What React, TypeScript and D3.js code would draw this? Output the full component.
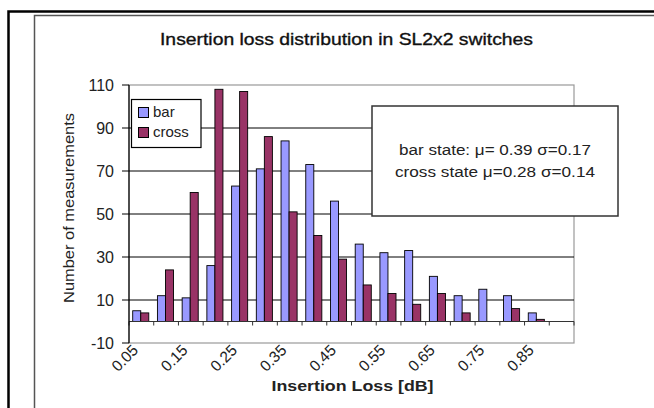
import React from "react";
import * as d3 from "d3";

const categories = ["0.05","0.10","0.15","0.20","0.25","0.30","0.35","0.40","0.45","0.50","0.55","0.60","0.65","0.70","0.75","0.80","0.85","0.90"];
const barValues = [5,12,11,26,63,71,84,73,56,36,32,33,21,12,15,12,4,0];
const crossValues = [4,24,60,108,107,86,51,40,29,17,13,8,13,4,0,6,1,0];
const seriesNames = ["bar","cross"];
const seriesColors = ["#9999FF","#993366"];
const yTicks = [-10,10,30,50,70,90,110];
const xTickLabels = ["0.05","0.15","0.25","0.35","0.45","0.55","0.65","0.75","0.85"];
const titleText = "Insertion loss distribution in SL2x2 switches";
const xTitle = "Insertion Loss [dB]";
const yTitle = "Number of measurements";
const noteLines = ["bar state: \u03bc= 0.39 \u03c3=0.17","cross state \u03bc=0.28 \u03c3=0.14"];

export default function App() {
  const W = 654, H = 408;
  const left = 129, right = 574, top = 85, bottom = 343;
  const font = "'Liberation Sans', Arial, sans-serif";
  const x = d3.scaleBand<string>().domain(categories).range([left, right]).padding(0);
  const bw = x.bandwidth();
  const x1 = d3.scaleBand<string>().domain(seriesNames).range([bw * 0.15, bw * 0.80]).padding(0);
  const y = d3.scaleLinear().domain([-10, 110]).range([bottom, top]);
  const data = [barValues, crossValues];
  return (
    <svg width={W} height={H} style={{ position: "absolute", left: 0, top: 0, background: "#fff" }} fontFamily={font}>
      <rect x={0} y={0} width={W} height={H} fill="#fff" />
      {/* outer frames */}
      <path d={`M8.5,${H + 5} V11.5 H${W + 5}`} fill="none" stroke="#000" strokeWidth={2.5} />
      <path d={`M34.5,${H + 5} V15.5 H${W + 5}`} fill="none" stroke="#555" strokeWidth={1.5} />
      <text x={346.5} y={45} fontSize={17} textAnchor="middle" textLength={373} lengthAdjust="spacingAndGlyphs" fill="#111" stroke="#111" strokeWidth={0.35}>{titleText}</text>
      {/* plot border */}
      <rect x={left} y={top} width={right - left} height={bottom - top} fill="#fff" stroke="#999" strokeWidth={1.2} />
      {/* gridlines */}
      {yTicks.filter(t => t > -10 && t < 110).map(t => (
        <line key={t} x1={left} x2={right} y1={y(t)} y2={y(t)} stroke="#000" strokeWidth={1} />
      ))}
      {/* bars */}
      {data.map((vals, si) => vals.map((v, i) => v > 0 ? (
        <rect key={si + "-" + i} x={(x(categories[i]) as number) + (x1(seriesNames[si]) as number)} y={y(v)} width={x1.bandwidth()} height={y(0) - y(v)} fill={seriesColors[si]} stroke="#000" strokeWidth={0.9} />
      ) : null))}
      {/* x axis at zero */}
      <line x1={left} x2={right} y1={y(0)} y2={y(0)} stroke="#333" strokeWidth={1.2} />
      {categories.map((c, i) => (
        <line key={c} x1={left + i * bw} x2={left + i * bw} y1={y(0)} y2={y(0) + 4} stroke="#333" strokeWidth={1} />
      ))}
      <line x1={right} x2={right} y1={y(0)} y2={y(0) + 4} stroke="#333" strokeWidth={1} />
      {/* y axis */}
      <line x1={left} x2={left} y1={top} y2={bottom} stroke="#000" strokeWidth={1.2} />
      {yTicks.map(t => (
        <g key={t}>
          <line x1={left - 7} x2={left} y1={y(t)} y2={y(t)} stroke="#000" strokeWidth={1} />
          <text x={114} y={y(t)} dy="0.35em" fontSize={16} textAnchor="end" fill="#222">{t}</text>
        </g>
      ))}
      {/* x tick labels */}
      {xTickLabels.map((l, k) => {
        const tx = left + 2 * k * bw;
        return (
          <text key={l} transform={`translate(${tx + 2},${bottom}) rotate(-45)`} dy="0.75em" fontSize={15.5} textAnchor="end" fill="#222">{l}</text>
        );
      })}
      <text x={352.5} y={391} fontSize={15} fontWeight="bold" textAnchor="middle" textLength={162} lengthAdjust="spacingAndGlyphs" fill="#222">{xTitle}</text>
      <text transform={`translate(74,208) rotate(-90)`} fontSize={15} textAnchor="middle" textLength={190} lengthAdjust="spacingAndGlyphs" fill="#222">{yTitle}</text>
      {/* legend */}
      <rect x={131.5} y={99.5} width={69.5} height={48} fill="#fff" stroke="#000" strokeWidth={1.2} />
      {seriesNames.map((s, i) => (
        <g key={s}>
          <rect x={138.5} y={107.5 + i * 20} width={10} height={10} fill={seriesColors[i]} stroke="#000" strokeWidth={1} />
          <text x={153} y={117 + i * 20} fontSize={15} fill="#222">{s}</text>
        </g>
      ))}
      {/* note box */}
      <rect x={372} y={106} width={246} height={110} fill="#fff" stroke="#333" strokeWidth={1.5} />
      {noteLines.map((l, i) => (
        <text key={i} x={495} y={155 + i * 21.5} fontSize={14} textAnchor="middle" textLength={i === 0 ? 192 : 200} lengthAdjust="spacingAndGlyphs" fill="#222">{l}</text>
      ))}
    </svg>
  );
}
